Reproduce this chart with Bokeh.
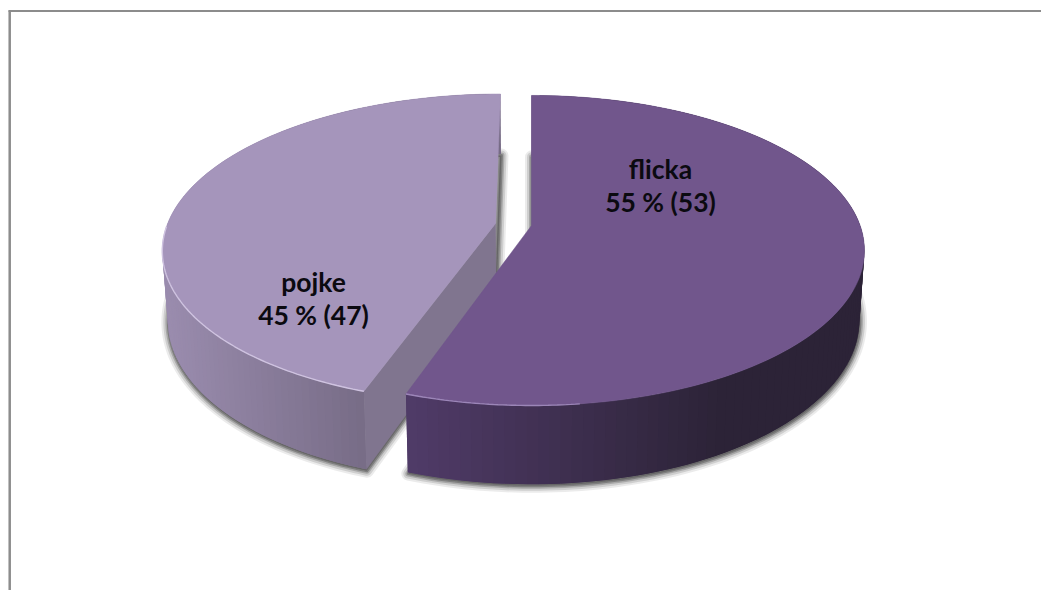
import numpy as np
from bokeh.plotting import figure
from bokeh.models import Range1d
from bokeh.core.properties import value
from bokeh.embed import file_html
from bokeh.resources import INLINE

# --- data
categories = ["flicka", "pojke"]
shares = [55, 45]
counts = [53, 47]
slice_sizes = [55.25, 44.75]  # sizes as drawn

# --- colours
top_colors = ["#71568C", "#A595BB"]
rim_colors = ["#9C86B8", "#CFC3E0"]
side_left = ["#503B68", "#9A8CAE"]
side_right = ["#2C2337", "#766B85"]
edge_color = "#80758F"

# --- projection of the tilted disc (page pixels, y downward)
CX, CY, A, B, K = 531.0, 225.0, 328.6, 151.0, 0.161
DY, SX, SY = 68.0, 0.985, 1.06
OFFSETS = [(0.0, 0.0), (-0.1096, 0.013)]  # exploded slice centres in disc units


def top(u, v):
    w = 1 + K * v
    return CX + A * u / w, CY - B * v / w


def bottom(u, v):
    w = 1 + K * v
    return CX + SX * A * u / w, CY + DY - SY * B * v / w


def arc(off, a0, a1, n=160):
    t = np.radians(np.linspace(a0, a1, n))
    return off[0] + np.sin(t), off[1] + np.cos(t)


def hex2rgb(h):
    return np.array([int(h[i:i + 2], 16) for i in (1, 3, 5)], float)


def mix(c0, c1, f):
    f = float(np.clip(f, 0, 1))
    r = hex2rgb(c0) * (1 - f) + hex2rgb(c1) * f
    return "#%02x%02x%02x" % tuple(int(round(x)) for x in r)


total = sum(slice_sizes)
sweeps = [s / total * 360 for s in slice_sizes]
spans = [(0.0, sweeps[0]), (sweeps[0], sweeps[0] + sweeps[1])]

p = figure(width=1041, height=590, x_range=Range1d(0, 1041), y_range=Range1d(590, 0),
           output_backend="svg", toolbar_location=None, min_border=0,
           background_fill_color="white", border_fill_color="white", outline_line_color=None)
p.axis.visible = False
p.grid.visible = False

# frame of the picture
p.segment([8], [10.5], [1041], [10.5], line_color="#8C8C8C", line_width=2)
p.segment([9.2], [10], [9.2], [590], line_color="#8C8C8C", line_width=2.5)

# soft shadows of the lower disc plane
for i in (1, 0):
    off, (a0, a1) = OFFSETS[i], spans[i]
    u, v = arc(off, a0, a1)
    bx, by = bottom(np.r_[off[0], u], np.r_[off[1], v])
    for lw, al in ((14, 0.08), (10, 0.12), (6, 0.18), (3, 0.24)):
        p.patch(bx + 0.5, by + 1.5, fill_color="black", fill_alpha=0.05,
                line_color="black", line_alpha=al, line_width=lw, line_join="round")

# slices: pojke first, flicka over it
for i in (1, 0):
    off, (a0, a1) = OFFSETS[i], spans[i]
    tip_angle = spans[0][1]
    # radial face of pojke that is visible in front
    if i == 1:
        ou = np.array([off[0], off[0] + np.sin(np.radians(tip_angle))])
        ov = np.array([off[1], off[1] + np.cos(np.radians(tip_angle))])
        tx, ty = top(ou, ov)
        bx, by = bottom(ou, ov)
        p.patch(np.r_[tx, bx[::-1]], np.r_[ty, by[::-1]], fill_color=edge_color, line_color=edge_color, line_width=0.5)
    # curved side as gradient strips, each overlapping the next to hide seams
    u_e, v_e = arc(off, a0, a1, 121)
    tx, ty = top(u_e, v_e)
    bx, by = bottom(u_e, v_e)
    order = list(range(120)) if i == 0 else list(range(119, -1, -1))
    xs, ys, cols = [], [], []
    for j in order:
        k = min(j + 2, 120) if i == 0 else max(j - 1, 0)
        k2 = j if i == 0 else min(j + 1, 120)
        xs.append([tx[k2], tx[k], bx[k], bx[k2]])
        ys.append([ty[k2], ty[k], by[k], by[k2]])
        xm = (tx[j] + tx[min(j + 1, 120)]) / 2
        if i == 0:
            f = (xm - 406) / (720 - 406)
        else:
            f = (xm - 165) / (370 - 165)
        cols.append(mix(side_left[i], side_right[i], f))
    p.patches(xs, ys, fill_color=cols, line_color=None)
    # top surface
    u, v = arc(off, a0, a1)
    sx, sy = top(np.r_[off[0], u], np.r_[off[1], v])
    p.patch(sx, sy, fill_color=top_colors[i], line_color=top_colors[i], line_width=0.5)
    # light rim on the front edge
    if i == 0:
        ru, rv = arc(off, a1 - 26, a1, 40)
    else:
        ru, rv = arc(off, a0, a0 + 70, 80)
    rx, ry = top(ru, rv)
    p.line(rx, ry, line_color=rim_colors[i], line_width=1.4)

# labels
label_x = [660, 313]
label_y = [168, 281]
for name, s, c, lx, ly in zip(categories, shares, counts, label_x, label_y):
    p.text([lx, lx], [ly, ly + 33], text=[name, f"{s} % ({c})"], text_font=value("Lato"),
           text_font_style="bold", text_font_size="26.5px", text_align="center",
           text_baseline="middle", text_color="#0B0A10")

open("out.html", "w").write(file_html(p, INLINE))
